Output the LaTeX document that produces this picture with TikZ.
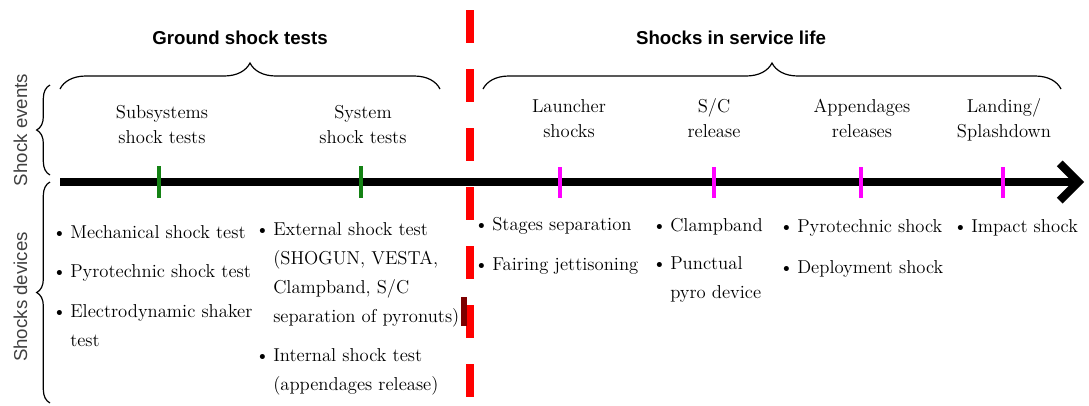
\documentclass[tikz,border=0pt]{standalone}
\usepackage{fontspec}
\newfontfamily\hsans{Liberation Sans}
\usetikzlibrary{decorations.pathreplacing,arrows.meta}
\definecolor{tickgreen}{RGB}{20,130,20}
\definecolor{tickmag}{RGB}{255,0,255}
\definecolor{dashred}{RGB}{255,0,0}
\definecolor{darkred}{RGB}{125,0,0}
\newcommand{\bl}{\makebox[13.5pt][l]{\textbullet}}
\newcommand{\ind}{\hspace*{13.5pt}}

\begin{document}
\begin{tikzpicture}[x=0.75pt, y=-0.75pt,
    every node/.style={inner sep=0pt},
    ttl/.style={font=\hsans\bfseries\fontsize{14}{16}\selectfont, anchor=base},
    side/.style={font=\hsans\fontsize{14}{16}\selectfont, text=black!75, rotate=90, anchor=base},
    evt/.style={font=\fontsize{14}{18.75}\selectfont, align=center, anchor=base},
    itm/.style={font=\fontsize{14}{21.75}\selectfont, align=left, anchor=base west},
    brc/.style={decorate, decoration={brace, amplitude=#1}, line width=0.9pt},
    brc/.default=10pt,
    gtick/.style={tickgreen, line width=3pt},
    mtick/.style={tickmag, line width=3pt}]
        \useasboundingbox (0,0) rectangle (1089,405);

        \coordinate (gL) at (60,89);
        \coordinate (gR) at (440,89);
        \coordinate (sL) at (483,89);
        \coordinate (sR) at (1061,89);
        \coordinate (evB) at (50,175);
        \coordinate (evT) at (50,85);
        \coordinate (dvB) at (50,403);
        \coordinate (dvT) at (50,182);
        \coordinate (a0) at (60,182);
        \coordinate (a1) at (1084,182);
        \coordinate (r0) at (470,10);
        \coordinate (r1) at (470,400);

        \node[ttl] (ground) at (240,44) {Ground shock tests};
        \node[ttl] (service) at (731,44) {Shocks in service life};
        \draw[brc=19.5pt] (gL) -- (gR);
        \draw[brc=19.5pt] (sL) -- (sR);

        \node[side] (events) at (27,130) {Shock events};
        \node[side] (devices) at (27,297) {Shocks devices};
        \draw[brc=10pt] (evB) -- (evT);
        \draw[brc=10pt] (dvB) -- (dvT);

        % base of a two-line node is the last line
        \node[evt] (sub) at (162,143) {Subsystems\\shock tests};
        \node[evt] (sys) at (363,143) {System\\shock tests};
        \node[evt] (lau) at (569,137) {Launcher\\shocks};
        \node[evt] (scr) at (714,137) {S/C\\release};
        \node[evt] (app) at (862,137) {Appendages\\releases};
        \node[evt] (lan) at (1004,137) {Landing/\\Splashdown};

        \draw[dashred, line width=6pt, dash pattern=on 24.75pt off 19.5pt] (r0) -- (r1);
        \draw[line width=6pt, -{Straight Barb[length=14pt, width=28pt]}] (a0) -- (a1);
        \foreach \x in {159,361}
            \draw[gtick] (\x,166) -- (\x,198);
        \foreach \x in {560,714,861,1003}
            \draw[mtick] (\x,167) -- (\x,198);

        \fill[darkred] (461,297) rectangle (467,326);

        \node[itm] (mech) at (52,238) {\bl Mechanical shock test};
        \node[itm] (pyro) at (52,277) {\bl Pyrotechnic shock test};
        \node[itm] (shaker) at (52,346) {\bl Electrodynamic shaker\\\ind test};
        \node[itm] (ext) at (255,322) {\bl External shock test\\\ind (SHOGUN, VESTA,\\\ind Clampband, S/C\\\ind separation of pyronuts)};
        \node[itm] (int) at (255,390) {\bl Internal shock test\\\ind (appendages release)};
        \node[itm] (stage) at (474,230) {\bl Stages separation};
        \node[itm] (fair) at (474,270) {\bl Fairing jettisoning};
        \node[itm] (clamp) at (652,231) {\bl Clampband};
        \node[itm] (punct) at (652,298) {\bl Punctual\\\ind pyro device};
        \node[itm] (pshock) at (779,232) {\bl Pyrotechnic shock};
        \node[itm] (deploy) at (779,273) {\bl Deployment shock};
        \node[itm] (impact) at (953,232) {\bl Impact shock};
    \end{tikzpicture}
\end{document}
